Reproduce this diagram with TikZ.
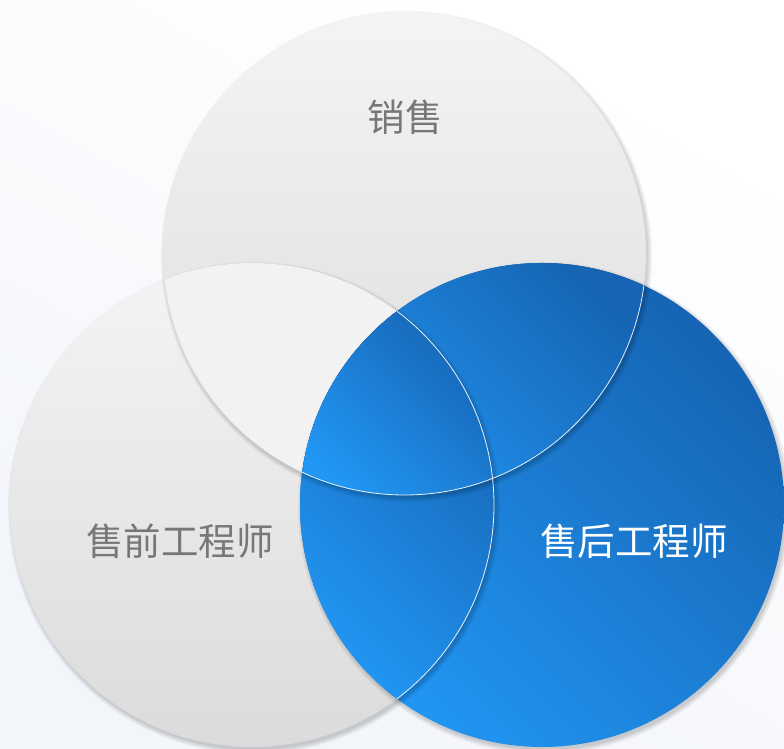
\documentclass[tikz,border=0pt]{standalone}
\usepackage{fontspec}
\newfontfamily\cjk{Noto Sans CJK SC}
\usetikzlibrary{calc}
\definecolor{bgB}{HTML}{F2F5FA}
\definecolor{greyTop}{HTML}{F4F4F4}
\definecolor{greyBot}{HTML}{DBDBDB}
\definecolor{lensGrey}{HTML}{F2F2F2}
\definecolor{blueLight}{HTML}{2196F3}
\definecolor{blueDark}{HTML}{1664B3}
\definecolor{labelGrey}{HTML}{777777}
\tikzset{
  greyfill/.style={top color=greyTop, bottom color=greyBot},
  bluefill/.style={shading=axis, top color=blueDark, bottom color=blueLight, shading angle=-45},
  label/.style={font=\cjk\fontsize{37.5}{40}\selectfont, inner sep=0pt},
  whiteedge/.style={draw=white, line width=0.8pt, opacity=0.9}
}
\newcommand{\softshadow}[2]{% center, radius
  \foreach \i in {1,...,8}{
    \fill[black, opacity=0.025] ($(#1)+(2,-3)$) circle ({#2+5-\i*0.7});
  }
}
\begin{document}
\begin{tikzpicture}[x=1pt,y=1pt]
\useasboundingbox (0,0) rectangle (784,749);
\shade[top color=white, bottom color=bgB, shading angle=-30] (0,0) rectangle (784,749);
\coordinate (T) at (404.5,495.5);
\coordinate (L) at (252,244);
\coordinate (R) at (542,244);
% top circle
\softshadow{T}{241.5}
\shade[greyfill] (T) circle (241.5);
% left circle
\softshadow{L}{242}
\shade[greyfill] (L) circle (242);
% lens top & left
\begin{scope}
  \clip (L) circle (242);
  \softshadow{T}{241.5}
  \fill[lensGrey] (T) circle (241.5);
  \draw[black!12, line width=0.6pt] (T) circle (241.5);
\end{scope}
% right circle
\softshadow{R}{242}
\shade[bluefill] (R) circle (242);
% lens left & right
\begin{scope}
  \clip (R) circle (242);
  \softshadow{L}{242}
  \begin{scope}
    \clip (L) circle (242);
    \shade[bluefill] (298,48) rectangle (496,442);
  \end{scope}
\end{scope}
% lens top & right
\begin{scope}
  \clip (R) circle (242);
  \softshadow{T}{241.5}
  \begin{scope}
    \clip (T) circle (241.5);
    \shade[bluefill] (298,252) rectangle (648,500);
    \softshadow{L}{242}
    \clip (L) circle (242);
    \shade[bluefill] (298,252) rectangle (496,442);
  \end{scope}
\end{scope}
% white edges
\begin{scope}
  \clip (R) circle (242);
  \draw[whiteedge] (L) circle (242);
  \draw[whiteedge] (T) circle (241.5);
\end{scope}
% labels
\node[label, text=labelGrey] (sales) at (405,632) {销售};
\node[label, text=labelGrey] (pre) at (180,208) {售前工程师};
\node[label, text=white] (post) at (634,208) {售后工程师};
\end{tikzpicture}
\end{document}
